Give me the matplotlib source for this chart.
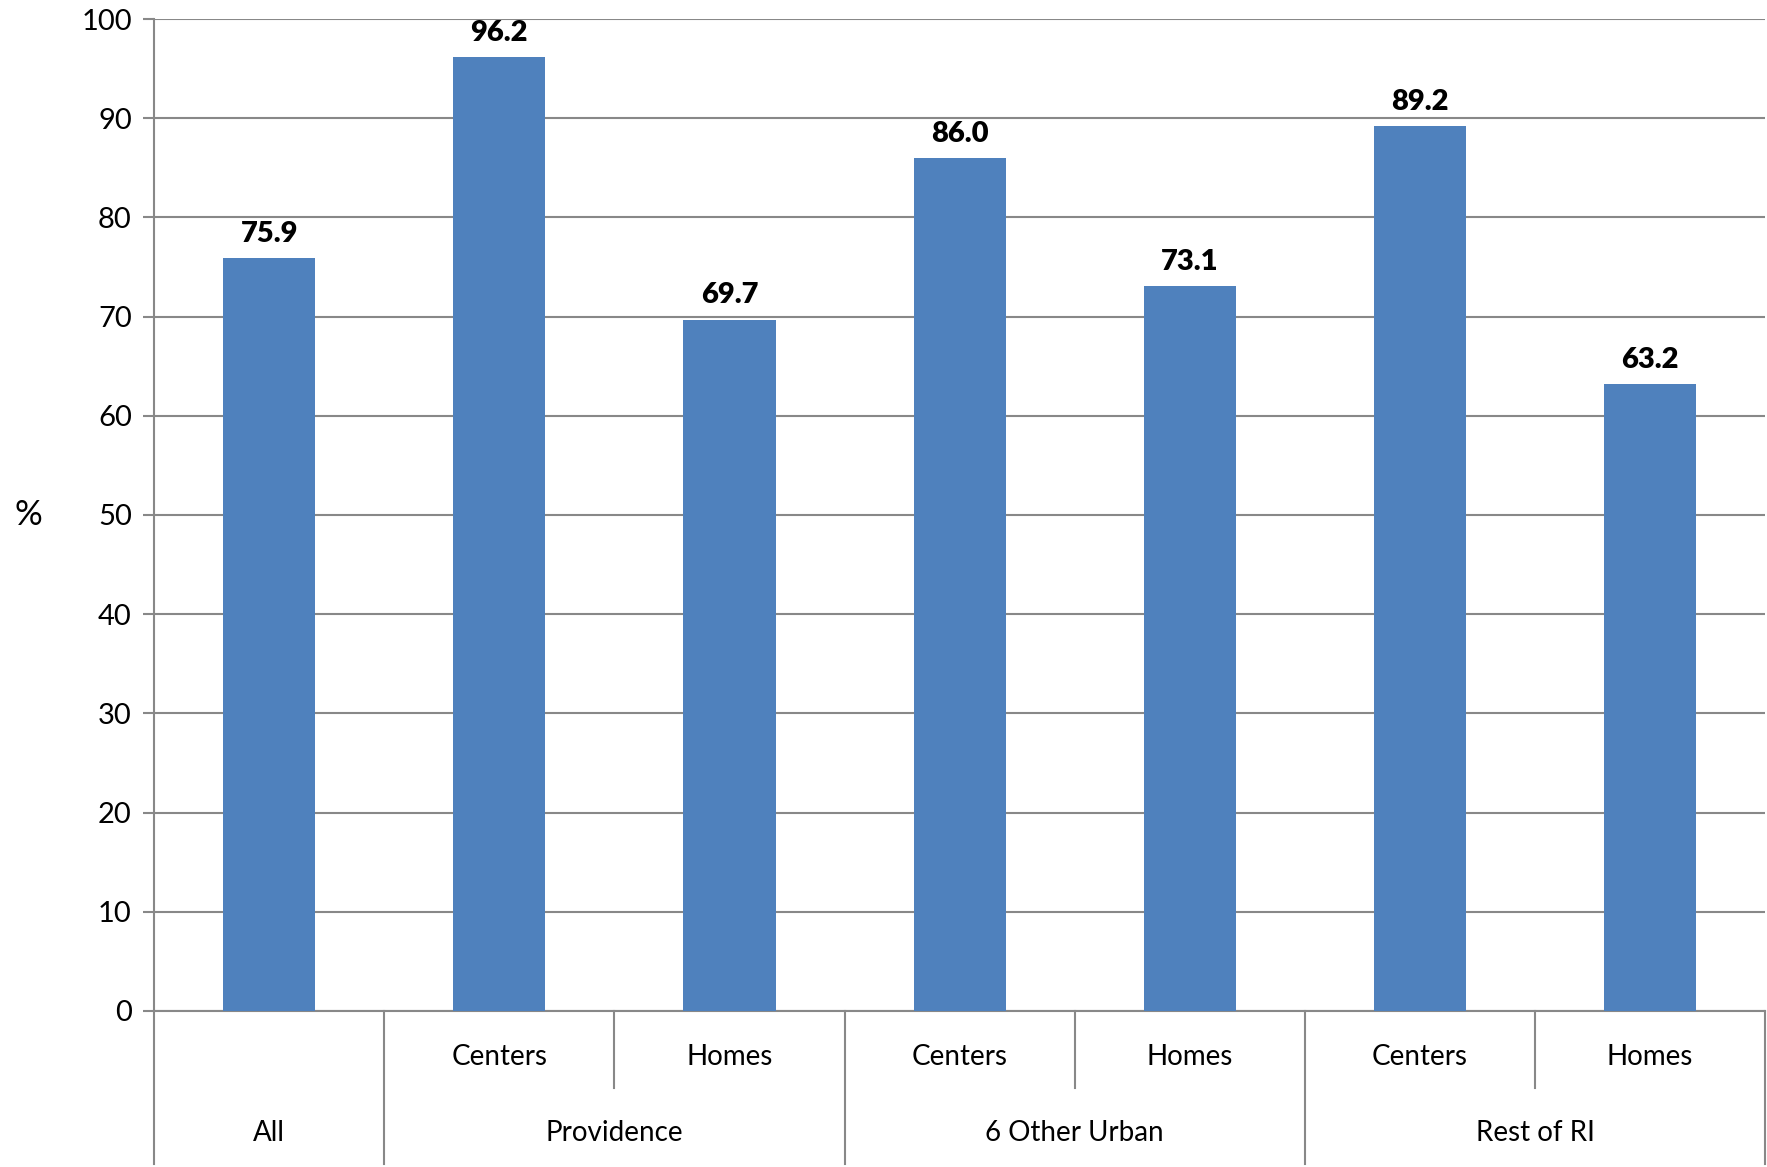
import matplotlib
matplotlib.use("Agg")
import matplotlib.pyplot as plt
import matplotlib.transforms as mtransforms

# data
sub_labels = ["", "Centers", "Homes", "Centers", "Homes", "Centers", "Homes"]
group_labels = ["All", "Providence", "6 Other Urban", "Rest of RI"]
group_sizes = [1, 2, 2, 2]
values = [75.9, 96.2, 69.7, 86.0, 73.1, 89.2, 63.2]
yticks = [0, 10, 20, 30, 40, 50, 60, 70, 80, 90, 100]

BAR = "#4F81BD"
GRID = "#888888"

plt.rcParams["font.family"] = ["Lato", "DejaVu Sans"]

fig = plt.figure(figsize=(17.67, 11.67), dpi=100)
ax = fig.add_axes([0.0872, 0.1337, 0.9118, 0.85])

x = list(range(len(values)))
ax.bar(x, values, width=0.40, color=BAR, zorder=3)
for xi, v in zip(x, values):
    ax.annotate(f"{v:.1f}", (xi, v), xytext=(0, 8), textcoords="offset points",
                ha="center", va="bottom", fontsize=21, fontweight="heavy")

ax.set_xlim(-0.5, len(values) - 0.5)
ax.set_ylim(0, 100)
ax.set_yticks(yticks)
ax.tick_params(axis="y", labelsize=21, length=8, width=1.5, color=GRID, pad=8)
ax.set_xticks([])
ax.grid(axis="y", color=GRID, linewidth=1.5, zorder=0)
for side in ["top", "right"]:
    ax.spines[side].set_visible(False)
ax.spines["left"].set_color(GRID)
ax.spines["left"].set_linewidth(1.5)
ax.spines["bottom"].set_color(GRID)
ax.spines["bottom"].set_linewidth(1.5)
ax.set_ylabel("%", rotation=0, fontsize=25, labelpad=38, va="center")

# category table below axis
trans = mtransforms.blended_transform_factory(ax.transData, ax.transAxes)
row_mid = -0.0776
table_bottom = -0.154
for xi, lab in zip(x, sub_labels):
    if lab:
        ax.text(xi, -0.0464, lab, transform=trans, ha="center", va="center", fontsize=20)

edge = -0.5
edges = [edge]
for name, n in zip(group_labels, group_sizes):
    center = edge + n / 2
    ax.text(center, -0.123, name, transform=trans, ha="center", va="center", fontsize=20)
    if n > 1:
        for k in range(1, n):
            ax.plot([edge + k, edge + k], [0, row_mid], transform=trans, color=GRID,
                    linewidth=1.5, clip_on=False)
    edge += n
    edges.append(edge)
for e in edges:
    ax.plot([e, e], [0, table_bottom], transform=trans, color=GRID, linewidth=1.5,
            clip_on=False)

fig.savefig("out.png", dpi=100)
